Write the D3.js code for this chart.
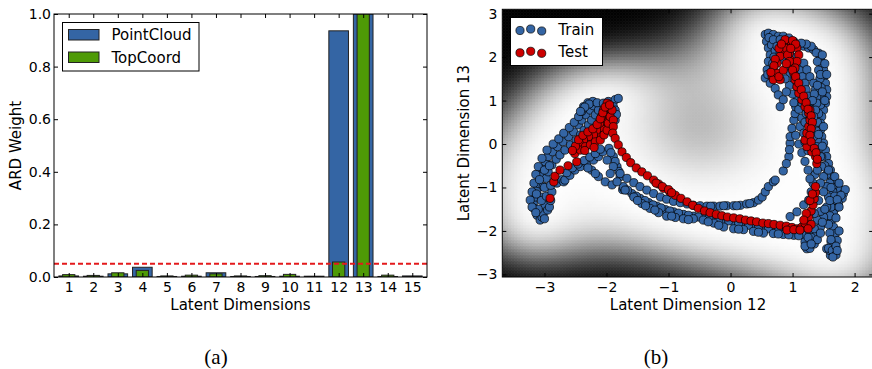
<!DOCTYPE html>
<html>
<head>
<meta charset="utf-8">
<script src="https://cdn.jsdelivr.net/npm/d3@7"></script>
<style>
  body { margin: 0; background: #fff; }
  svg text { font-family: "DejaVu Sans", sans-serif; fill: #000; }
  .cap { font-family: "Liberation Serif", serif; }
</style>
</head>
<body>
<svg id="fig" width="872" height="369"></svg>
<script>
// ---- (a) ARD weights ----
var dims = [1, 2, 3, 4, 5, 6, 7, 8, 9, 10, 11, 12, 13, 14, 15];
var pointCloud = [0.004, 0.003, 0.012, 0.037, 0.002, 0.003, 0.016, 0.002, 0.002, 0.003, 0.003, 0.936, 1.0, 0.002, 0.004];
var topCoord   = [0.009, 0.006, 0.016, 0.025, 0.004, 0.007, 0.012, 0.004, 0.005, 0.010, 0.002, 0.057, 1.0, 0.007, 0.002];
var ardThreshold = 0.05;
var ardTicks = [0, 0.2, 0.4, 0.6, 0.8, 1.0];

// ---- (b) latent space, [dim12, dim13] ----
var latXTicks = [-3, -2, -1, 0, 1, 2];
var latYTicks = [-3, -2, -1, 0, 1, 2, 3];

var trainLeftArm = [
  [-3.18,-1.37],[-3.17,-1.48],[-3.12,-1.64],[-3.07,-1.75],[-3.04,-1.68],[-3.15,-1.22],[-3.12,-1.06],[-3.10,-0.91],
  [-3.07,-0.72],[-3.04,-0.56],[-2.99,-0.41],[-2.94,-0.29],[-2.87,-0.18],[-2.79,-0.06],[-2.70,0.05],[-2.61,0.17],
  [-2.53,0.28],[-2.45,0.44],[-2.40,0.55],[-2.33,0.67],[-2.26,0.78],[-2.21,0.88],
  [-3.02,-1.60],[-2.99,-1.41],[-3.04,-1.22],[-3.02,-0.98],[-2.97,-0.79],[-2.94,-0.64],[-2.88,-0.48],[-2.81,-0.35],
  [-2.75,-0.25],[-2.67,-0.14],[-2.58,-0.02],[-2.49,0.09],[-2.42,0.21],[-2.36,0.32],[-2.29,0.44],[-2.24,0.55],
  [-2.18,0.67],[-2.13,0.78],
  [-3.23,-1.29],[-3.20,-1.10],[-3.17,-0.90],[-3.14,-0.70],[-3.10,-0.52],[-3.04,-0.33],[-2.96,-0.14],[-2.86,0.00],
  [-2.77,0.12],[-2.69,0.25],[-2.60,0.38],[-2.52,0.50],[-2.45,0.63],[-2.40,0.75],[-2.37,0.86],[-2.30,0.95],[-2.22,0.98],
  [-3.10,-1.50],[-3.05,-1.30],[-3.13,-1.15],[-2.97,-1.20],[-3.00,-1.00],[-3.08,-0.82],[-3.00,-0.60],[-2.92,-0.50],
  [-3.00,-1.72],[-2.95,-1.52],[-2.28,0.92],[-2.35,0.85],[-2.15,0.95],[-2.42,0.75],[-3.20,-1.45],[-3.14,-1.58],
  [-2.92,-1.45],[-2.90,-1.30],[-2.88,-1.10],[-2.90,-0.95],[-2.80,-0.90],[-2.72,-0.82],[-2.69,-0.87],
  [-2.67,-0.83],[-2.59,-0.72],[-2.51,-0.60],[-2.42,-0.52],[-2.32,-0.45],[-2.21,-0.37],[-2.13,-0.29],[-2.06,-0.18],
  [-2.64,-0.66],[-2.55,-0.55],[-2.46,-0.46],[-2.36,-0.38],[-2.27,-0.30],[-2.18,-0.22],[-2.10,-0.12],
  [-2.24,-0.60],[-2.13,-0.75],[-2.02,-0.87],[-1.91,-0.94],[-1.74,-1.05],[-2.30,-0.55],[-2.18,-0.68],
  [-2.05,0.94],[-1.97,0.98],[-1.86,1.02],[-1.81,1.05],[-1.89,0.86],[-1.86,0.78],[-1.86,0.55],[-1.84,0.68],
  [-1.96,-0.10],[-1.89,-0.29],[-1.83,-0.52],[-1.78,-0.75],[-1.72,-1.02],[-1.93,-0.20],[-1.86,-0.40],[-1.80,-0.63]
];
var trainBottom = [
  [-1.99,-0.37],[-1.89,-0.52],[-1.78,-0.68],[-1.67,-0.79],[-1.56,-0.89],[-1.46,-0.98],[-1.35,-1.06],[-1.24,-1.14],
  [-1.13,-1.22],[-1.03,-1.27],[-0.92,-1.32],[-0.81,-1.35],[-0.70,-1.38],[-0.60,-1.41],[-0.49,-1.42],[-0.38,-1.43],
  [-0.27,-1.43],[-0.17,-1.43],[-0.06,-1.42],[0.05,-1.42],[0.16,-1.41],[0.26,-1.38],[0.37,-1.35],[0.45,-1.29],
  [0.51,-1.22],[0.56,-1.10],[0.61,-0.98],[0.69,-0.87],[-0.32,-1.43],[-0.11,-1.42],[0.10,-1.42],[0.31,-1.37],
  [0.72,-0.83],[0.85,-0.62],[0.94,-0.29],[0.96,0.02],[0.96,0.17],[0.99,0.36],[1.02,0.55],[1.04,0.70],[1.05,0.86],
  [0.90,-0.45],[0.95,-0.13],
  [-1.73,-0.98],[-1.59,-1.14],[-1.46,-1.25],[-1.32,-1.35],[-1.19,-1.43],[-1.05,-1.51],[-0.92,-1.56],[-0.76,-1.62],
  [-0.60,-1.66],[-0.44,-1.69],[-0.27,-1.72],[-0.11,-1.75],[0.05,-1.79],[0.21,-1.85],[0.37,-1.89],[0.53,-1.93],
  [0.69,-1.96],[0.85,-1.98],[1.02,-2.00],[1.18,-1.98],
  [-1.66,-1.06],[-1.52,-1.20],[-1.38,-1.30],[-1.25,-1.40],[-1.12,-1.47],[-0.98,-1.54],[-0.84,-1.59],[-0.68,-1.64],
  [-0.52,-1.68],[-0.35,-1.71],[-0.19,-1.74],[-0.03,-1.77],[0.13,-1.82],[0.29,-1.87],[0.45,-1.91],[0.61,-1.95],
  [0.77,-1.97],[0.93,-1.99],[1.10,-2.02],
  [-1.94,-0.68],[-1.83,-0.87],[-1.70,-1.06],[-1.56,-1.22],[-1.43,-1.37],[-1.30,-1.48],[-1.16,-1.58],[-1.03,-1.66],
  [-0.89,-1.69],[-0.76,-1.72],[-0.60,-1.72],[-0.44,-1.75],[-0.27,-1.82],[-0.11,-1.91],[0.05,-1.95],[0.21,-1.97],
  [0.37,-2.01],[0.53,-2.05],[0.69,-2.06],[0.85,-2.08],[1.02,-2.10],[1.18,-2.10],[1.28,-2.06],
  [-1.50,-1.30],[-1.37,-1.42],[-1.22,-1.52],[-0.95,-1.66],[-0.68,-1.74],[-0.36,-1.79],[-0.19,-1.87],[0.13,-1.96],
  [0.45,-2.03],[0.77,-2.07],[0.94,-2.09],[1.10,-2.11]
];
var trainRightArm = [
  [0.56,2.52],[0.61,2.55],[0.69,2.52],[0.77,2.48],[0.85,2.48],[0.94,2.44],[1.02,2.36],[1.10,2.28],[1.18,2.25],
  [1.26,2.21],[1.34,2.17],[1.42,2.09],[1.45,1.98],[1.47,1.86],[1.50,1.71],[1.50,1.55],[1.53,1.40],[1.55,1.25],
  [1.55,1.09],[1.53,0.94],[1.50,0.78],[1.47,0.63],[1.45,0.48],[1.45,0.32],[1.47,0.17],[1.50,0.02],[1.53,-0.14],
  [1.55,-0.29],[1.58,-0.45],[1.61,-0.60],[1.63,-0.75],[1.66,-0.87],[1.72,-0.98],[1.77,-1.06],[1.82,-1.14],
  [1.80,-1.25],[1.74,-1.37],[1.69,-1.48],[1.66,-1.60],[1.63,-1.75],[1.66,-1.91],[1.69,-2.06],[1.72,-2.22],
  [1.69,-2.37],[1.66,-2.52],[1.61,-2.56],[1.55,-2.41],
  [1.38,2.10],[1.40,1.90],[1.42,1.70],[1.44,1.50],[1.46,1.30],[1.47,1.10],[1.45,0.90],[1.42,0.70],[1.40,0.50],
  [1.38,0.30],[1.40,0.10],[1.43,-0.10],[1.47,-0.30],[1.52,-0.50],[1.55,-0.70],[1.60,-0.90],[1.65,-1.10],
  [1.68,-1.30],[1.62,-1.45],[1.60,-1.65],[1.58,-1.85],[1.60,-2.05],[1.62,-2.25],[1.60,-2.45],
  [0.58,2.36],[0.61,2.21],[0.64,2.05],[0.61,1.90],[0.59,1.71],[0.56,1.52],[0.64,1.40],[0.72,1.28],[0.77,1.13],
  [0.80,0.86],[0.85,1.02],[0.62,2.45],[0.70,2.35],[0.66,2.28],[0.72,2.15],[0.70,2.00],[0.68,1.85],[0.60,1.60],
  [0.69,2.40],[0.75,2.25],[0.80,2.09],[0.85,1.94],[0.91,1.78],[0.96,1.63],[1.02,1.48],[1.07,1.32],[1.12,1.17],
  [1.18,1.02],[1.23,0.86],[1.26,0.71],
  [0.80,2.40],[0.88,2.30],[0.95,2.15],[1.02,2.00],[1.08,1.85],[1.12,1.70],[1.16,1.55],[1.20,1.40],[1.22,1.25],
  [1.25,1.10],[1.28,0.95],[1.30,0.80],
  [1.18,1.86],[1.23,1.71],[1.28,1.55],[1.34,1.40],[1.37,1.25],[1.39,1.09],[1.39,0.94],[1.37,0.78],[1.34,0.63],
  [1.31,0.40],[1.34,0.17],[1.39,-0.06],[1.45,-0.29],[1.47,-0.52],[1.50,-0.75],[1.55,-0.98],[1.58,-1.22],
  [1.55,-1.45],[1.50,-1.68],[1.45,-1.91],[1.39,-2.06],[1.34,-2.22],[1.26,-2.33],[1.23,-2.41],
  [0.96,-1.67],[1.07,-1.56],[1.18,-1.40],[1.26,-1.29],[1.30,-1.10],[1.33,-0.90],[1.36,-0.70],
  [1.42,-1.30],[1.45,-1.55],[1.40,-1.75],[1.35,-1.95],[1.30,-2.15],
  [1.62,-1.00],[1.68,-1.20],[1.60,-1.30],[1.50,-1.10],[1.45,-0.90],[1.40,-0.60],[1.62,-2.20],[1.58,-2.40],
  [1.64,-2.45],[1.70,-2.35],[1.20,-2.25],[1.28,-2.40],[1.25,-2.15],[1.35,-2.30],[1.20,-2.35],[1.70,-2.55],
  [1.12,0.40],[1.15,0.60],[1.10,0.80],[1.05,0.20],[1.10,0.00],[1.15,-0.20],[1.20,-0.40],[1.25,-0.60],[1.28,-0.80],
  [1.18,0.25],[1.20,0.05],[1.25,-0.15],
  [1.20,0.50],[1.22,0.70],[1.15,0.95],[1.08,1.05],[1.02,0.95],[1.00,1.15],[0.95,1.35],[0.90,1.20],[0.88,1.50],
  [1.45,1.60],[1.40,1.35],[1.35,1.15],[1.32,1.00],[1.48,1.20],[1.52,1.00],[1.50,0.40],[1.42,0.22],[1.48,-0.05],
  [1.58,-0.60],[1.68,-0.75],[1.75,-0.90],[1.85,-1.05],[1.78,-1.18],[1.72,-1.28],[1.75,-1.45],[1.70,-1.70],
  [1.75,-2.00],[1.65,-2.60],[1.72,-2.45],[1.40,-2.20],[1.45,-2.05],[1.48,-1.80],[1.52,-1.50],[1.35,-1.60],
  [1.30,-2.30],[1.30,2.25],[1.22,2.30],[1.14,2.32],[1.48,2.05],[1.52,1.85],[1.55,1.60]
];

var testLeftArm = [
  [-2.91,-1.25],[-2.85,-0.87],[-2.83,-0.74],[-2.75,-0.60],[-2.62,-0.50],[-2.48,-0.41],[-2.51,-0.22],[-2.45,-0.10],
  [-2.40,-0.02],[-2.32,0.05],[-2.24,0.09],[-2.16,0.17],[-2.10,0.25],[-2.05,0.36],[-2.02,0.52],[-1.99,0.67],
  [-1.97,0.82],[-1.99,0.94],[-2.05,0.78],[-2.08,0.63],[-2.11,0.48],[-2.16,0.32],[-2.21,0.21],[-2.29,0.17],
  [-2.37,0.09],[-2.44,0.02],[-2.42,-0.14],[-2.34,-0.06],[-2.26,-0.02],[-2.18,0.05],[-2.10,0.09],[-2.04,0.21],
  [-1.99,0.32],[-1.97,0.48],[-1.94,0.63],[-1.91,0.78],[-1.89,0.55],[-1.89,0.40],[-1.90,0.25],
  [-2.50,-0.05],[-2.45,0.10],[-2.38,0.20],[-2.30,0.28],[-2.22,0.35],[-2.15,0.45],[-2.10,0.58],[-2.06,0.72],
  [-2.02,0.85],[-1.95,0.90],[-2.55,-0.15],[-2.35,-0.15],[-2.20,-0.08]
];
var testBottom = [
  [-1.86,0.13],[-1.81,-0.02],[-1.75,-0.18],[-1.68,-0.31],[-1.61,-0.43],[-1.52,-0.55],[-1.43,-0.64],[-1.34,-0.73],
  [-1.24,-0.83],[-1.16,-0.92],[-1.08,-1.02],[-0.98,-1.10],[-0.89,-1.18],[-0.80,-1.25],[-0.70,-1.33],[-0.61,-1.41],
  [-0.52,-1.48],[-0.42,-1.54],[-0.33,-1.58],[-0.23,-1.62],[-0.14,-1.65],[-0.05,-1.68],[0.05,-1.70],[0.15,-1.72],
  [0.24,-1.75],[0.33,-1.77],[0.42,-1.79],[0.52,-1.82],[0.61,-1.83],[0.70,-1.85],[0.80,-1.87],[0.90,-1.89],
  [0.99,-1.92],[1.07,-1.95],[1.15,-1.91],[1.20,-1.82],[1.26,-1.68],[1.30,-1.54],[1.33,-1.40],[1.35,-1.26],
  [1.37,-1.12],[1.37,-0.98],
  [0.91,-1.98],[1.02,-1.97],[1.12,-1.98],[-1.20,-0.90],[-1.10,-0.98],[-1.00,-1.05],[-0.95,-1.12],
  [1.22,-1.60],[1.28,-1.30],[1.32,-1.15],[1.30,-1.85],[1.25,-1.95],[1.18,-1.75]
];
var testRightArm = [
  [1.39,-0.45],[1.37,-0.29],[1.31,-0.18],[1.23,-0.06],[1.20,0.09],[1.23,0.25],[1.26,0.40],[1.28,0.55],[1.26,0.71],
  [1.20,0.86],[1.15,1.02],[1.10,1.17],[1.07,1.32],[1.04,1.48],[1.02,1.63],[0.99,1.78],[0.96,1.94],[0.95,2.09],
  [0.94,2.25],[0.91,2.36],[0.85,2.32],[0.83,2.17],[0.80,2.02],[0.75,1.86],[0.69,1.71],[0.67,1.55],[0.69,1.48],
  [0.80,1.48],[0.75,1.63],[1.02,2.32],[1.07,2.21],[1.10,2.05],[1.07,1.90],[1.04,1.75],[1.28,0.78],
  [0.88,2.40],[0.90,2.20],[0.92,2.05],[0.95,1.90],[1.00,1.70],[1.05,1.55],[1.10,1.40],[1.14,1.25],[1.18,1.10],
  [1.22,0.95],[1.25,0.80],[1.30,0.65],[1.32,0.50],[1.30,0.35],[1.28,0.20],[1.30,0.05],[1.35,-0.10],[1.38,-0.20],
  [1.40,-0.35],[0.78,2.20],[0.82,2.30],[0.72,1.95],[0.70,1.80],[0.65,1.65],[0.78,1.55],[0.85,1.70],[0.90,1.85],
  [1.00,2.38],[1.05,2.30],[0.97,2.20]
];

var trainPts = trainLeftArm.concat(trainBottom, trainRightArm);
var testPts = testLeftArm.concat(testBottom, testRightArm);

var blue = '#3465a4', green = '#4e9a06', red = '#cc0000';
var svg = d3.select('#fig');
var defs = svg.append('defs');

function frameAxes(g, box, xs, ys, xTicks, yTicks, xFmt, yFmt, xPad, yPad) {
    // inward ticks on all four sides, classic matplotlib look
    g.append('g').attr('transform', 'translate(0,' + box.b + ')')
        .call(d3.axisBottom(xs).tickValues(xTicks).tickSize(-4).tickPadding(xPad).tickFormat(xFmt));
    g.append('g').attr('transform', 'translate(0,' + box.t + ')')
        .call(d3.axisTop(xs).tickValues(xTicks).tickSize(-4).tickFormat(''));
    g.append('g').attr('transform', 'translate(' + box.l + ',0)')
        .call(d3.axisLeft(ys).tickValues(yTicks).tickSize(-4).tickPadding(yPad).tickFormat(yFmt));
    g.append('g').attr('transform', 'translate(' + box.r + ',0)')
        .call(d3.axisRight(ys).tickValues(yTicks).tickSize(-4).tickFormat(''));
    g.selectAll('.domain').remove();
    g.selectAll('.tick line').attr('stroke', '#000');
    g.selectAll('.tick text').style('font-size', '14px').style('font-family', '"DejaVu Sans", sans-serif');
    g.append('rect').attr('x', box.l).attr('y', box.t)
        .attr('width', box.r - box.l).attr('height', box.b - box.t)
        .attr('fill', 'none').attr('stroke', '#000').attr('stroke-width', 1);
}

// ================= (a) =================
var box1 = {l: 54, r: 427, t: 14, b: 277};
var x1 = d3.scaleLinear().domain([0.4, 15.6]).range([box1.l, box1.r]);
var y1 = d3.scaleLinear().domain([0, 1]).range([box1.b, box1.t]);
defs.append('clipPath').attr('id', 'clip1').append('rect')
    .attr('x', box1.l).attr('y', box1.t).attr('width', box1.r - box1.l).attr('height', box1.b - box1.t);

var gA = svg.append('g');
var bars = gA.append('g').attr('clip-path', 'url(#clip1)');
bars.selectAll('rect.pc').data(dims).enter().append('rect').attr('class', 'pc')
    .attr('x', function(d) { return x1(d - 0.4); })
    .attr('width', function(d) { return x1(d + 0.4) - x1(d - 0.4); })
    .attr('y', function(d, i) { return y1(pointCloud[i]); })
    .attr('height', function(d, i) { return y1(0) - y1(pointCloud[i]); })
    .attr('fill', blue).attr('stroke', '#222').attr('stroke-width', 1);
bars.selectAll('rect.tc').data(dims).enter().append('rect').attr('class', 'tc')
    .attr('x', function(d) { return x1(d - 0.25); })
    .attr('width', function(d) { return x1(d + 0.25) - x1(d - 0.25); })
    .attr('y', function(d, i) { return y1(topCoord[i]); })
    .attr('height', function(d, i) { return y1(0) - y1(topCoord[i]); })
    .attr('fill', green).attr('stroke', '#222').attr('stroke-width', 1);
bars.append('line')
    .attr('x1', box1.l).attr('x2', box1.r)
    .attr('y1', y1(ardThreshold)).attr('y2', y1(ardThreshold))
    .attr('stroke', '#e31a1c').attr('stroke-width', 2).attr('stroke-dasharray', '5,3');

frameAxes(gA, box1, x1, y1, dims, ardTicks, d3.format('d'), d3.format('.1f'), 5, 3);

gA.append('text').attr('x', (box1.l + box1.r) / 2).attr('y', 310)
    .attr('text-anchor', 'middle').attr('font-size', 15).text('Latent Dimensions');
gA.append('text').attr('transform', 'translate(21,' + (box1.t + box1.b) / 2 + ') rotate(-90)')
    .attr('text-anchor', 'middle').attr('font-size', 15).text('ARD Weight');

// legend (a)
var legA = gA.append('g');
legA.append('rect').attr('x', 62.5).attr('y', 22.5).attr('width', 136.5).attr('height', 48.5)
    .attr('fill', '#fff').attr('stroke', '#000');
[['PointCloud', blue, 29.5], ['TopCoord', green, 52]].forEach(function(e) {
    legA.append('rect').attr('x', 68.5).attr('y', e[2]).attr('width', 30.5).attr('height', 10.5)
        .attr('fill', e[1]).attr('stroke', '#222');
    legA.append('text').attr('x', 111.5).attr('y', e[2] + 10.5).attr('font-size', 15).text(e[0]);
});

// ================= (b) =================
var box2 = {l: 502.3, r: 873.2, t: 9.3, b: 277};
var x2 = d3.scaleLinear().domain([-3.68, 2.3]).range([box2.l, box2.r]);
var y2 = d3.scaleLinear().domain([-3.06, 3.1]).range([box2.b, box2.t]);
defs.append('clipPath').attr('id', 'clip2').append('rect')
    .attr('x', box2.l).attr('y', box2.t).attr('width', box2.r - box2.l).attr('height', box2.b - box2.t);

var gB = svg.append('g');

// background: GP predictive variance over the latent space, from the training points
function variance(pts, ls, noise) {
    var n = pts.length, K = [], L = [];
    function k(a, b) {
        var dx = a[0] - b[0], dy = a[1] - b[1];
        return Math.exp(-(dx * dx + dy * dy) / (2 * ls * ls));
    }
    for (var i = 0; i < n; i++) { K.push(new Float64Array(n)); L.push(new Float64Array(n)); }
    for (i = 0; i < n; i++) for (var j = 0; j < n; j++) K[i][j] = k(pts[i], pts[j]) + (i == j ? noise : 0);
    for (i = 0; i < n; i++) {
        for (j = 0; j <= i; j++) {
            var s = K[i][j];
            for (var m = 0; m < j; m++) s -= L[i][m] * L[j][m];
            L[i][j] = i == j ? Math.sqrt(Math.max(s, 1e-9)) : s / L[j][j];
        }
    }
    var v = new Float64Array(n);
    return function(p) {
        var acc = 0;
        for (var i = 0; i < n; i++) {
            var s = k(p, pts[i]);
            var Li = L[i];
            for (var m = 0; m < i; m++) s -= Li[m] * v[m];
            v[i] = s / Li[i];
            acc += v[i] * v[i];
        }
        return 1 - acc;
    };
}
var varFn = variance(trainPts, 1.5, 0.05);
var cell = 3;
var cells = [];
for (var py = box2.t; py < box2.b; py += cell) {
    for (var px = box2.l; px < box2.r; px += cell) {
        cells.push({x: x2.invert(px), y: y2.invert(py),
                    v: varFn([x2.invert(px + cell / 2), y2.invert(py + cell / 2)])});
    }
}
var vExt = d3.extent(cells, function(c) { return c.v; });
// white for low variance, black for high; a strong gamma keeps the fringe dark
var shade = d3.scaleLinear().domain(vExt).range([1, 0]).clamp(true);
function gray(v) { var b = Math.pow(shade(v), 4.5) * 255; return d3.rgb(b, b, b); }
var dx2 = x2.invert(box2.l + cell) - x2.invert(box2.l);
var dy2 = y2.invert(box2.t) - y2.invert(box2.t + cell);
gB.append('g').attr('clip-path', 'url(#clip2)')
  .selectAll('rect').data(cells).enter().append('rect')
    .attr('x', function(c) { return x2(c.x); })
    .attr('y', function(c) { return y2(c.y); })
    .attr('width', x2(dx2) - x2(0) + 0.6)
    .attr('height', y2(0) - y2(dy2) + 0.6)
    .attr('fill', function(c) { return gray(c.v); });

var pts = gB.append('g').attr('clip-path', 'url(#clip2)');
pts.selectAll('circle.tr').data(trainPts).enter().append('circle').attr('class', 'tr')
    .attr('cx', function(d) { return x2(d[0]); }).attr('cy', function(d) { return y2(d[1]); })
    .attr('r', 4.1).attr('fill', blue).attr('stroke', '#000').attr('stroke-width', 0.7);
pts.selectAll('circle.te').data(testPts).enter().append('circle').attr('class', 'te')
    .attr('cx', function(d) { return x2(d[0]); }).attr('cy', function(d) { return y2(d[1]); })
    .attr('r', 4.1).attr('fill', red).attr('stroke', '#000').attr('stroke-width', 0.7);

frameAxes(gB, box2, x2, y2, latXTicks, latYTicks, d3.format('d'), d3.format('d'), 5, 5);

gB.append('text').attr('x', 688).attr('y', 310)
    .attr('text-anchor', 'middle').attr('font-size', 15).text('Latent Dimension 12');
gB.append('text').attr('transform', 'translate(469,' + (box2.t + box2.b) / 2 + ') rotate(-90)')
    .attr('text-anchor', 'middle').attr('font-size', 15).text('Latent Dimension 13');

// legend (b)
var legB = gB.append('g');
legB.append('rect').attr('x', 510.5).attr('y', 17.5).attr('width', 92).attr('height', 48)
    .attr('fill', '#fff').attr('stroke', '#000');
[['Train', blue, 0], ['Test', red, 22.3]].forEach(function(e) {
    [[520, 30.5], [530.7, 29], [541.7, 31]].forEach(function(p) {
        legB.append('circle').attr('cx', p[0]).attr('cy', p[1] + e[2]).attr('r', 4.1)
            .attr('fill', e[1]).attr('stroke', '#000').attr('stroke-width', 0.7);
    });
    legB.append('text').attr('x', 558.3).attr('y', 34.5 + e[2]).attr('font-size', 15).text(e[0]);
});

// sub-captions
svg.append('text').attr('class', 'cap').attr('x', 216).attr('y', 364)
    .attr('text-anchor', 'middle').attr('font-size', 21).text('(a)');
svg.append('text').attr('class', 'cap').attr('x', 656).attr('y', 364)
    .attr('text-anchor', 'middle').attr('font-size', 21).text('(b)');
</script>
</body>
</html>
